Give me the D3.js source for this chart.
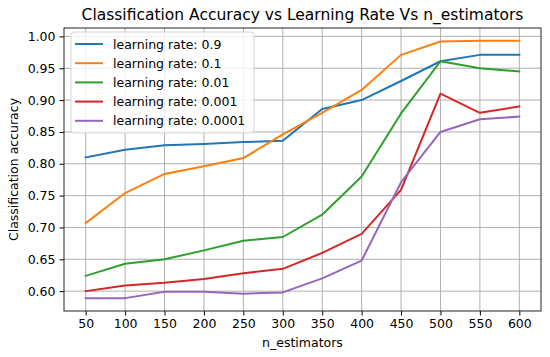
<!DOCTYPE html>
<html>
<head>
<meta charset="utf-8">
<script src="https://cdn.jsdelivr.net/npm/d3@7"></script>
<style>
  body { margin: 0; background: #fff; }
  text { font-family: "DejaVu Sans", sans-serif; fill: #000; }
</style>
</head>
<body>
<div id="chart"></div>
<script>
// Data
const nEstimators = [50, 100, 150, 200, 250, 300, 350, 400, 450, 500, 550, 600];
const lr09    = [0.810, 0.822, 0.829, 0.831, 0.834, 0.836, 0.886, 0.900, 0.930, 0.961, 0.971, 0.971];
const lr01    = [0.707, 0.754, 0.784, 0.796, 0.809, 0.846, 0.880, 0.916, 0.971, 0.992, 0.993, 0.993];
const lr001   = [0.624, 0.643, 0.650, 0.664, 0.679, 0.685, 0.720, 0.780, 0.879, 0.961, 0.950, 0.945];
const lr0001  = [0.600, 0.609, 0.613, 0.619, 0.628, 0.635, 0.660, 0.690, 0.759, 0.910, 0.880, 0.890];
const lr00001 = [0.589, 0.589, 0.599, 0.599, 0.596, 0.598, 0.620, 0.648, 0.771, 0.850, 0.870, 0.874];
const seriesNames = ["learning rate: 0.9", "learning rate: 0.1", "learning rate: 0.01", "learning rate: 0.001", "learning rate: 0.0001"];
const colors = ["#1f77b4", "#ff7f0e", "#2ca02c", "#d62728", "#9467bd"];
const yTicks = [0.60, 0.65, 0.70, 0.75, 0.80, 0.85, 0.90, 0.95, 1.00];

const series = [lr09, lr01, lr001, lr0001, lr00001].map((vals, i) => ({
  name: seriesNames[i],
  color: colors[i],
  points: vals.map((v, j) => ({ x: nEstimators[j], y: v }))
}));

// Dimensions
const width = 550, height = 357;
const margin = { left: 64, right: 9, top: 28, bottom: 46 };

let svg = d3.select("#chart").append("svg")
  .attr("width", width)
  .attr("height", height);

// matplotlib style 5% padding
const xPad = (600 - 50) * 0.05;
const x = d3.scaleLinear()
  .domain([50 - xPad, 600 + xPad])
  .range([margin.left, width - margin.right]);

const allY = series.flatMap(s => s.points.map(p => p.y));
const yMin = d3.min(allY), yMax = d3.max(allY);
const yPad = (yMax - yMin) * 0.05;
const y = d3.scaleLinear()
  .domain([yMin - yPad, yMax + yPad])
  .range([height - margin.bottom, margin.top]);

// Grid
let grid = svg.append("g").attr("class", "grid");
grid.selectAll("line.vx")
  .data(nEstimators)
  .enter().append("line")
  .attr("x1", d => x(d)).attr("x2", d => x(d))
  .attr("y1", margin.top).attr("y2", height - margin.bottom)
  .attr("stroke", "#b0b0b0").attr("stroke-width", 1);
grid.selectAll("line.hy")
  .data(yTicks)
  .enter().append("line")
  .attr("x1", margin.left).attr("x2", width - margin.right)
  .attr("y1", d => y(d)).attr("y2", d => y(d))
  .attr("stroke", "#b0b0b0").attr("stroke-width", 1);

// Lines
const line = d3.line().x(d => x(d.x)).y(d => y(d.y));
svg.append("g")
  .selectAll("path")
  .data(series)
  .enter().append("path")
  .attr("d", d => line(d.points))
  .attr("fill", "none")
  .attr("stroke", d => d.color)
  .attr("stroke-width", 2)
  .attr("stroke-linejoin", "round")
  .attr("stroke-linecap", "square");

// Axes
let xAxis = svg.append("g")
  .attr("transform", `translate(0,${height - margin.bottom})`)
  .call(d3.axisBottom(x).tickValues(nEstimators).tickSize(4.5).tickPadding(4).tickSizeOuter(0));
let yAxis = svg.append("g")
  .attr("transform", `translate(${margin.left},0)`)
  .call(d3.axisLeft(y).tickValues(yTicks).tickFormat(d3.format(".2f")).tickSize(4.5).tickPadding(4).tickSizeOuter(0));
[xAxis, yAxis].forEach(a => {
  a.select(".domain").remove();
  a.selectAll("text").style("font-size", "12.5px").style("font-family", "DejaVu Sans");
  a.selectAll("line").attr("stroke", "#000").attr("stroke-width", 1);
});

// Frame
svg.append("rect")
  .attr("x", margin.left).attr("y", margin.top)
  .attr("width", width - margin.left - margin.right)
  .attr("height", height - margin.top - margin.bottom)
  .attr("fill", "none").attr("stroke", "#222").attr("stroke-width", 1);

// Labels
svg.append("text")
  .attr("x", (margin.left + width - margin.right) / 2)
  .attr("y", 19.5)
  .attr("text-anchor", "middle")
  .style("font-size", "15.5px")
  .text("Classification Accuracy vs Learning Rate Vs n_estimators");

svg.append("text")
  .attr("x", (margin.left + width - margin.right) / 2)
  .attr("y", 347)
  .attr("text-anchor", "middle")
  .style("font-size", "12.5px")
  .text("n_estimators");

svg.append("text")
  .attr("transform", `translate(18,${(margin.top + height - margin.bottom) / 2}) rotate(-90)`)
  .attr("text-anchor", "middle")
  .style("font-size", "12.5px")
  .text("Classification accuracy");

// Legend
let legend = svg.append("g").attr("transform", "translate(71,32)");
legend.append("rect")
  .attr("width", 183).attr("height", 101)
  .attr("rx", 3)
  .attr("fill", "#fff").attr("fill-opacity", 0.8)
  .attr("stroke", "#d5d5d5").attr("stroke-width", 1);
let items = legend.selectAll("g.item")
  .data(series)
  .enter().append("g")
  .attr("transform", (d, i) => `translate(0,${12 + i * 19.2})`);
items.append("line")
  .attr("x1", 4).attr("x2", 32)
  .attr("stroke", d => d.color).attr("stroke-width", 2);
items.append("text")
  .attr("x", 42).attr("y", 4.5)
  .style("font-size", "12.5px")
  .text(d => d.name);
</script>
</body>
</html>
